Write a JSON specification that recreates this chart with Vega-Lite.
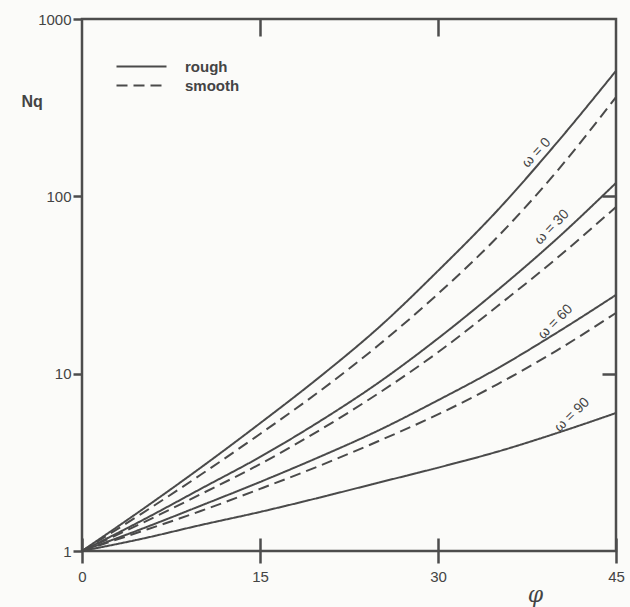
{
  "$schema": "https://vega.github.io/schema/vega-lite/v6.json",
  "width": 534,
  "height": 532,
  "autosize": {"type": "none"},
  "padding": {"left": 82, "top": 19, "right": 14, "bottom": 56},
  "background": "#fbfbf9",
  "config": {
    "view": {"stroke": "#4d4d4d", "strokeWidth": 2.5},
    "font": "Liberation Sans"
  },
  "datasets": {
    "curves": [
      {"phi": 0, "Nq": 1, "omega": "0", "wall": "rough"},
      {"phi": 5, "Nq": 1.70, "omega": "0", "wall": "rough"},
      {"phi": 10, "Nq": 2.95, "omega": "0", "wall": "rough"},
      {"phi": 15, "Nq": 5.25, "omega": "0", "wall": "rough"},
      {"phi": 20, "Nq": 9.55, "omega": "0", "wall": "rough"},
      {"phi": 25, "Nq": 18.2, "omega": "0", "wall": "rough"},
      {"phi": 30, "Nq": 38.0, "omega": "0", "wall": "rough"},
      {"phi": 35, "Nq": 83.2, "omega": "0", "wall": "rough"},
      {"phi": 40, "Nq": 200, "omega": "0", "wall": "rough"},
      {"phi": 45, "Nq": 510, "omega": "0", "wall": "rough"},
      {"phi": 0, "Nq": 1, "omega": "0", "wall": "smooth"},
      {"phi": 5, "Nq": 1.62, "omega": "0", "wall": "smooth"},
      {"phi": 10, "Nq": 2.69, "omega": "0", "wall": "smooth"},
      {"phi": 15, "Nq": 4.57, "omega": "0", "wall": "smooth"},
      {"phi": 20, "Nq": 7.94, "omega": "0", "wall": "smooth"},
      {"phi": 25, "Nq": 14.5, "omega": "0", "wall": "smooth"},
      {"phi": 30, "Nq": 28.2, "omega": "0", "wall": "smooth"},
      {"phi": 35, "Nq": 58.9, "omega": "0", "wall": "smooth"},
      {"phi": 40, "Nq": 138, "omega": "0", "wall": "smooth"},
      {"phi": 45, "Nq": 363, "omega": "0", "wall": "smooth"},
      {"phi": 0, "Nq": 1, "omega": "30", "wall": "rough"},
      {"phi": 5, "Nq": 1.48, "omega": "30", "wall": "rough"},
      {"phi": 10, "Nq": 2.24, "omega": "30", "wall": "rough"},
      {"phi": 15, "Nq": 3.39, "omega": "30", "wall": "rough"},
      {"phi": 20, "Nq": 5.37, "omega": "30", "wall": "rough"},
      {"phi": 25, "Nq": 8.91, "omega": "30", "wall": "rough"},
      {"phi": 30, "Nq": 15.8, "omega": "30", "wall": "rough"},
      {"phi": 35, "Nq": 29.5, "omega": "30", "wall": "rough"},
      {"phi": 40, "Nq": 57.5, "omega": "30", "wall": "rough"},
      {"phi": 45, "Nq": 119, "omega": "30", "wall": "rough"},
      {"phi": 0, "Nq": 1, "omega": "30", "wall": "smooth"},
      {"phi": 5, "Nq": 1.43, "omega": "30", "wall": "smooth"},
      {"phi": 10, "Nq": 2.09, "omega": "30", "wall": "smooth"},
      {"phi": 15, "Nq": 3.09, "omega": "30", "wall": "smooth"},
      {"phi": 20, "Nq": 4.79, "omega": "30", "wall": "smooth"},
      {"phi": 25, "Nq": 7.76, "omega": "30", "wall": "smooth"},
      {"phi": 30, "Nq": 13.2, "omega": "30", "wall": "smooth"},
      {"phi": 35, "Nq": 24.0, "omega": "30", "wall": "smooth"},
      {"phi": 40, "Nq": 44.7, "omega": "30", "wall": "smooth"},
      {"phi": 45, "Nq": 87.1, "omega": "30", "wall": "smooth"},
      {"phi": 0, "Nq": 1, "omega": "60", "wall": "rough"},
      {"phi": 5, "Nq": 1.33, "omega": "60", "wall": "rough"},
      {"phi": 10, "Nq": 1.80, "omega": "60", "wall": "rough"},
      {"phi": 15, "Nq": 2.45, "omega": "60", "wall": "rough"},
      {"phi": 20, "Nq": 3.39, "omega": "60", "wall": "rough"},
      {"phi": 25, "Nq": 4.79, "omega": "60", "wall": "rough"},
      {"phi": 30, "Nq": 7.08, "omega": "60", "wall": "rough"},
      {"phi": 35, "Nq": 10.7, "omega": "60", "wall": "rough"},
      {"phi": 40, "Nq": 17.0, "omega": "60", "wall": "rough"},
      {"phi": 45, "Nq": 27.8, "omega": "60", "wall": "rough"},
      {"phi": 0, "Nq": 1, "omega": "60", "wall": "smooth"},
      {"phi": 5, "Nq": 1.29, "omega": "60", "wall": "smooth"},
      {"phi": 10, "Nq": 1.68, "omega": "60", "wall": "smooth"},
      {"phi": 15, "Nq": 2.24, "omega": "60", "wall": "smooth"},
      {"phi": 20, "Nq": 3.02, "omega": "60", "wall": "smooth"},
      {"phi": 25, "Nq": 4.17, "omega": "60", "wall": "smooth"},
      {"phi": 30, "Nq": 5.89, "omega": "60", "wall": "smooth"},
      {"phi": 35, "Nq": 8.71, "omega": "60", "wall": "smooth"},
      {"phi": 40, "Nq": 13.5, "omega": "60", "wall": "smooth"},
      {"phi": 45, "Nq": 22.0, "omega": "60", "wall": "smooth"},
      {"phi": 0, "Nq": 1, "omega": "90", "wall": "rough"},
      {"phi": 5, "Nq": 1.17, "omega": "90", "wall": "rough"},
      {"phi": 10, "Nq": 1.40, "omega": "90", "wall": "rough"},
      {"phi": 15, "Nq": 1.66, "omega": "90", "wall": "rough"},
      {"phi": 20, "Nq": 2.00, "omega": "90", "wall": "rough"},
      {"phi": 25, "Nq": 2.43, "omega": "90", "wall": "rough"},
      {"phi": 30, "Nq": 2.95, "omega": "90", "wall": "rough"},
      {"phi": 35, "Nq": 3.63, "omega": "90", "wall": "rough"},
      {"phi": 40, "Nq": 4.62, "omega": "90", "wall": "rough"},
      {"phi": 45, "Nq": 6.0, "omega": "90", "wall": "rough"}
    ],
    "labels": [
      {"phi": 38.3, "Nq": 176, "label": "ω = 0"},
      {"phi": 39.6, "Nq": 67, "label": "ω = 30"},
      {"phi": 39.9, "Nq": 19.6, "label": "ω = 60"},
      {"phi": 41.3, "Nq": 5.85, "label": "ω = 90"}
    ]
  },
  "resolve": {"axis": {"x": "independent", "y": "independent"}},
  "layer": [
    {
      "data": {"name": "curves"},
      "mark": {"type": "line", "interpolate": "monotone", "color": "#4a4a4a", "strokeWidth": 2},
      "encoding": {
        "x": {
          "field": "phi", "type": "quantitative",
          "scale": {"domain": [0, 45], "nice": false, "zero": false},
          "axis": {
            "orient": "bottom", "offset": -13, "values": [0, 15, 30, 45], "domain": false, "grid": false,
            "tickSize": 25, "tickWidth": 2.5, "tickColor": "#4d4d4d",
            "labelPadding": 6, "labelFontSize": 15, "labelColor": "#444",
            "labelFlush": false,
            "title": "φ", "titleFont": "DejaVu Serif", "titleFontStyle": "italic", "titleFontWeight": "normal",
            "titleFontSize": 22, "titleColor": "#444", "titleX": 453, "titleY": 56, "titleAnchor": "middle", "titleBaseline": "middle"
          }
        },
        "y": {
          "field": "Nq", "type": "quantitative",
          "scale": {"type": "log", "domain": [1, 1000], "nice": false},
          "axis": {
            "orient": "left", "values": [1, 10, 100, 1000], "domain": false, "grid": false,
            "tickSize": 9, "tickWidth": 2.5, "tickColor": "#4d4d4d",
            "labelPadding": 2, "labelFontSize": 15, "labelColor": "#444",
            "labelFlush": false, "format": "d",
            "title": "Nq", "titleAngle": 0, "titleX": -61, "titleY": 82, "titleAlign": "left", "titleBaseline": "middle",
            "titleFontSize": 16, "titleFontWeight": "bold", "titleColor": "#444"
          }
        },
        "strokeDash": {
          "field": "wall", "type": "nominal",
          "scale": {"domain": ["rough", "smooth"], "range": [[1, 0], [11, 6]]},
          "legend": {
            "orient": "none", "legendX": 52, "legendY": 40, "title": null,
            "symbolType": "M-5,0H5", "symbolSize": 100, "symbolStrokeWidth": 2, "symbolStrokeColor": "#4a4a4a",
            "labelFontSize": 15, "labelFontWeight": "bold", "labelColor": "#444", "labelOffset": 36,
            "rowPadding": 3
          }
        },
        "detail": {"field": "omega", "type": "nominal"}
      }
    },
    {
      "data": {"name": "labels"},
      "mark": {"type": "text", "fontSize": 14, "color": "#444", "align": "center", "baseline": "middle"},
      "encoding": {
        "x": {
          "field": "phi", "type": "quantitative",
          "axis": {"orient": "top", "values": [15, 30], "labels": false, "domain": false, "grid": false,
                   "tickSize": -17, "tickWidth": 2.5, "tickColor": "#4d4d4d", "title": null}
        },
        "y": {
          "field": "Nq", "type": "quantitative",
          "axis": {"orient": "right", "values": [10, 100], "labels": false, "domain": false, "grid": false,
                   "tickSize": -14, "tickWidth": 2.5, "tickColor": "#4d4d4d", "title": null}
        },
        "text": {"field": "label", "type": "nominal"},
        "angle": {
          "field": "label", "type": "nominal",
          "scale": {"domain": ["ω = 0", "ω = 30", "ω = 60", "ω = 90"], "range": [313, 316, 326, 332]},
          "legend": null
        }
      }
    }
  ]
}
